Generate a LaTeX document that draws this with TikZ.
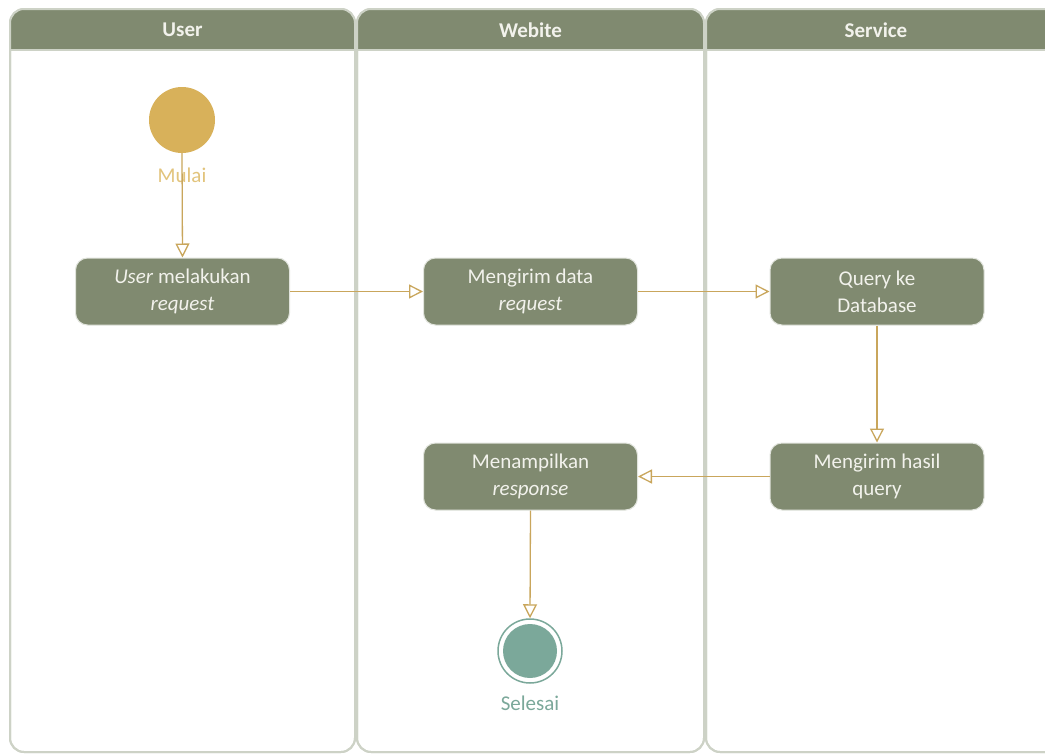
\documentclass[tikz,border=0pt]{standalone}
\usepackage{fontspec}
\setmainfont{Carlito}
\usetikzlibrary{arrows.meta}
\definecolor{hdr}{HTML}{808A70}
\definecolor{lanebd}{HTML}{CDD2C6}
\definecolor{flow}{HTML}{C9A65C}
\definecolor{startc}{HTML}{D8B15A}
\definecolor{startt}{HTML}{E2C47C}
\definecolor{endc}{HTML}{7BA89A}
\definecolor{boxtxt}{HTML}{F2F2EC}
\tikzset{
  lane/.style={draw=lanebd, line width=2pt, fill=white, rounded corners=14pt},
  lanehead/.style={font=\fontsize{21}{25}\selectfont\bfseries, text=boxtxt},
  act/.style={draw=lanebd!60!white, line width=1pt, fill=hdr, rounded corners=12pt,
    minimum width=214pt, minimum height=67pt, align=center, text=boxtxt,
    font=\fontsize{21}{27}\selectfont, inner sep=0pt},
  flowarr/.style={draw=flow, line width=1.3pt, -{Triangle[open, length=14pt, width=14pt, fill=white]}},
}
\begin{document}
\begin{tikzpicture}[x=1pt, y=-1pt]
\useasboundingbox (0,0) rectangle (1045,753);
% lanes
\begin{scope}
\clip (0,0) rectangle (1045,753);
\foreach \xa/\xb/\nm/\lbl in {10/355/l1/User, 357/704/l2/Webite, 706/1060/l3/Service}{
  \draw[lane] (\xa,9) rectangle (\xb,752);
  \begin{scope}
    \clip[rounded corners=14pt] (\xa,9) rectangle (\xb,752);
    \fill[hdr] (\xa,9) rectangle (\xb,50);
  \end{scope}
  \draw[lane, fill=none] (\xa,9) rectangle (\xb,752);
  \draw[lanebd, line width=2pt] (\xa,50) -- (\xb,50);
}
\end{scope}
\node[lanehead] (h1) at (182.5,30) {User};
\node[lanehead] (h2) at (530.5,30) {Webite};
\node[lanehead] (h3) at (876,30) {Service};
% start
\node[circle, fill=startc, minimum size=66pt, inner sep=0pt] (start) at (182,120) {};
\node[text=startt, font=\fontsize{21}{25}\selectfont] (mulai) at (182,175) {Mulai};
% activities
\node[act] (a1) at (182.5,291.5) {\textit{User} melakukan\\\textit{request}};
\node[act] (a2) at (530.5,291.5) {Mengirim data\\\textit{request}};
\node[act] (a3) at (877,291.5) {Query ke\\Database};
\node[act] (a4) at (877,476.5) {Mengirim hasil\\query};
\node[act] (a5) at (530.5,476.5) {Menampilkan\\\textit{response}};
% end
\node[circle, draw=endc, line width=1.5pt, fill=white, minimum size=64pt, inner sep=0pt] (stop) at (530,651) {};
\node[circle, fill=endc, minimum size=54pt, inner sep=0pt] (stopin) at (530,651) {};
\node[text=endc, font=\fontsize{21}{25}\selectfont] (selesai) at (530,703) {Selesai};
% flows
\draw[flowarr] (start.south) -- (a1.north);
\draw[flowarr] (a1.east) -- (a2.west);
\draw[flowarr] (a2.east) -- (a3.west);
\draw[flowarr] (a3.south) -- (a4.north);
\draw[flowarr] (a4.west) -- (a5.east);
\draw[flowarr] (a5.south) -- (stop.north);
\end{tikzpicture}
\end{document}
